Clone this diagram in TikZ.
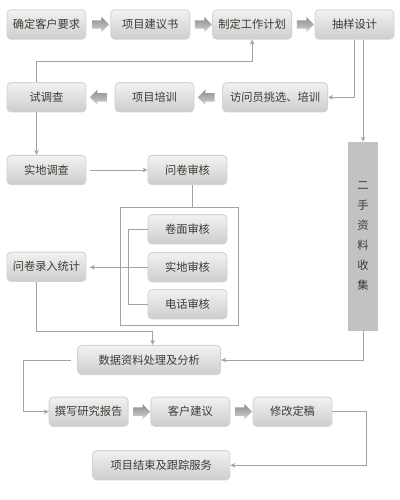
\documentclass[tikz,border=0pt]{standalone}
\usepackage{fontspec}
\newfontfamily\cjk{Noto Sans CJK SC}
\usetikzlibrary{arrows.meta,calc,shapes.arrows}
\definecolor{ink}{HTML}{3F3A33}
\definecolor{boxtop}{HTML}{F2F2F2}
\definecolor{boxbot}{HTML}{CDCDCD}
\definecolor{boxedge}{HTML}{D4D4D4}
\definecolor{wire}{HTML}{A3A3A3}
\definecolor{barfill}{HTML}{C2C2C2}
\definecolor{arrowtop}{HTML}{8C8C8C}
\definecolor{arrowbot}{HTML}{D4D4D4}
\tikzset{
  stepbox/.style={
    rounded corners=3.5pt,
    draw=boxedge,
    line width=0.8pt,
    top color=boxtop,
    bottom color=boxbot,
    text=ink,
    font=\cjk\fontsize{9.6}{11}\selectfont,
    minimum width=2.37cm,
    minimum height=0.88cm,
    inner sep=2pt
  },
  widebox/.style={stepbox, minimum width=#1},
  sidebar/.style={
    fill=barfill,
    draw=none,
    text=ink,
    align=center,
    font=\cjk\fontsize{9.6}{17}\selectfont,
    minimum width=0.88cm,
    minimum height=5.67cm,
    inner sep=0pt
  },
  groupbox/.style={draw=wire, line width=0.6pt, minimum width=3.55cm, minimum height=3.54cm},
  link/.style={draw=wire, line width=0.6pt, -{Stealth[length=1.5mm,width=1.4mm]}},
  bracket/.style={draw=wire, line width=0.6pt},
  fatarrow/.style={
    single arrow,
    draw=none,
    top color=arrowtop,
    bottom color=arrowbot,
    minimum height=0.51cm,
    minimum width=0.44cm,
    single arrow head extend=0.1cm,
    inner xsep=0pt,
    inner ysep=0.12cm
  },
  backarrow/.style={fatarrow, shape border rotate=180}
}

\begin{document}
\begin{tikzpicture}[x=0.03cm,y=-0.03cm]
\useasboundingbox (0,0) rectangle (400,500);
\fill[white] (0,0) rectangle (400,500);

% first row
\node[stepbox] (req) at (46.5,24.5) {确定客户要求};
\node[stepbox] (proposal) at (150.3,24.5) {项目建议书};
\node[stepbox] (plan) at (252.2,24.5) {制定工作计划};
\node[stepbox] (sample) at (354.5,24.5) {抽样设计};

% second row
\node[stepbox] (pilot) at (46.5,97.3) {试调查};
\node[stepbox] (train) at (154.5,97.3) {项目培训};
\node[widebox=3.15cm] (staff) at (275.2,97.3) {访问员挑选、培训};

% fieldwork and checks
\node[stepbox] (field) at (46.5,170) {实地调查};
\node[stepbox] (check) at (187.5,170) {问卷审核};
\node[groupbox] (grp) at (179.5,266.3) {};
\node[stepbox] (paper) at (187.5,229.3) {卷面审核};
\node[stepbox] (site) at (187.5,267.3) {实地审核};
\node[stepbox] (phone) at (187.5,304.3) {电话审核};
\node[stepbox] (entry) at (46.5,266.7) {问卷录入统计};
\node[sidebar] (bar) at (363,236.3) {二\\手\\资\\料\\收\\集};

% analysis and report
\node[widebox=4.29cm] (data) at (149.2,360) {数据资料处理及分析};
\node[stepbox] (report) at (88.7,411.7) {撰写研究报告};
\node[stepbox] (advice) at (190.3,411.7) {客户建议};
\node[stepbox] (final) at (292.5,411.7) {修改定稿};
\node[widebox=4.12cm] (close) at (161.3,465.3) {项目结束及跟踪服务};

% block arrows
\node[fatarrow] (a1) at ($(req.east)!0.5!(proposal.west)$) {};
\node[fatarrow] (a2) at ($(proposal.east)!0.5!(plan.west)$) {};
\node[fatarrow] (a3) at ($(plan.east)!0.5!(sample.west)$) {};
\node[backarrow] (a4) at ($(train.east)!0.5!(staff.west)$) {};
\node[backarrow] (a5) at ($(pilot.east)!0.5!(train.west)$) {};
\node[fatarrow] (a6) at ($(report.east)!0.5!(advice.west)$) {};
\node[fatarrow] (a7) at ($(advice.east)!0.5!(final.west)$) {};

% connectors
\draw[link] ([xshift=-0.3cm]pilot.north) -- ++(0,-20.6) -| (plan.south);
\draw[link] (sample.south) |- (staff.east);
\draw[link] (sample.south -| bar.north) -- (bar.north);
\draw[link] ([xshift=-0.3cm]pilot.south) -- ([xshift=-0.3cm]field.north);
\draw[link, shorten <=0.12cm] (field.east) -- (check.west);
\draw[bracket] ([xshift=0.15cm]check.south) -- ([xshift=0.15cm]check.south |- grp.north);
\draw[bracket] (paper.west) -- ++(-18.7,0) |- (phone.west);
\draw[link, shorten >=0.1cm] (site.west) -- (site.west -| entry.east);
\draw[link] ([xshift=-0.3cm]entry.south) -- ++(0,49.3) -| ([xshift=0.1cm]data.north);
\draw[link] (bar.south) |- (data.east);
\draw[link, shorten <=0.18cm] (data.west) -- ++(-53.7,0) |- (report.west);
\draw[link] (final.east) -- ++(33.4,0) |- (close.east);

\end{tikzpicture}
\end{document}
